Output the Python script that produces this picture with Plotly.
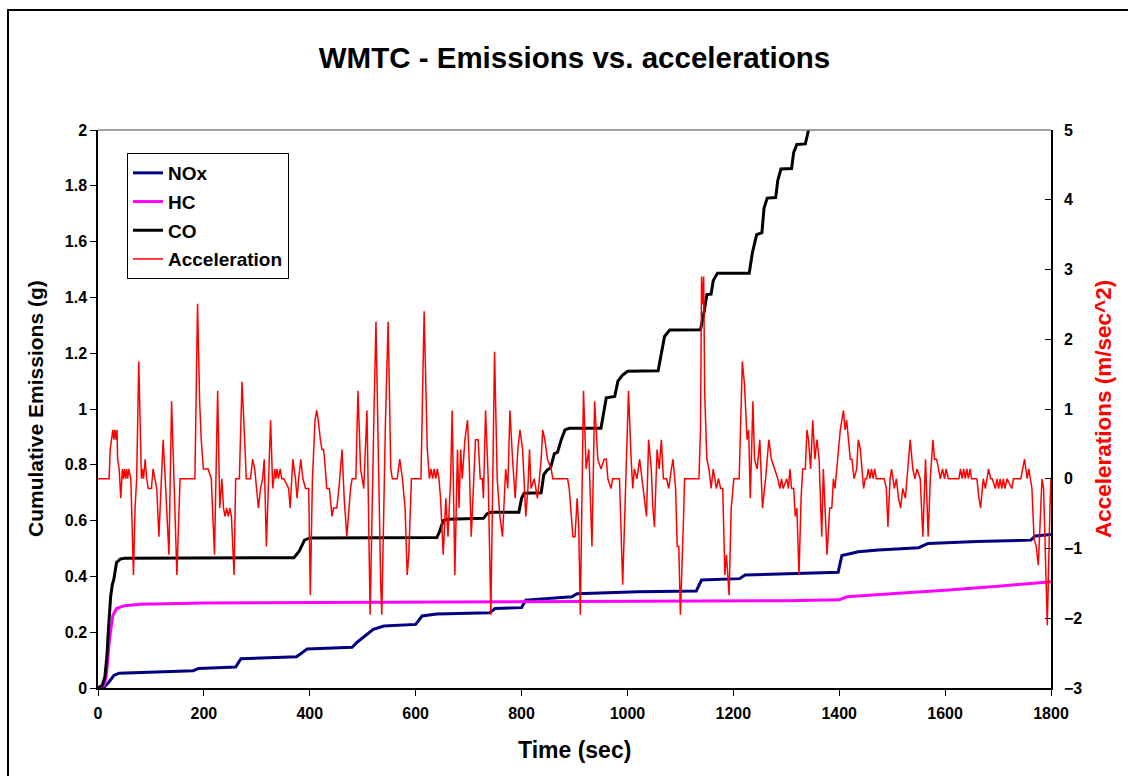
import plotly.graph_objects as go

# ---------------- data ----------------
nox_t = [0, 10, 20, 30, 40, 100, 180, 190, 260, 270, 375, 395, 480, 490, 520, 540, 600, 612, 640, 740, 750,
         800, 808, 895, 905, 1020, 1130, 1140, 1212, 1222, 1300, 1398, 1405, 1436, 1474, 1550, 1568, 1660,
         1762, 1770, 1800]
nox_v = [0, 0.0, 0.02, 0.045, 0.053, 0.058, 0.062, 0.07, 0.075, 0.105, 0.112, 0.14, 0.146, 0.165, 0.21, 0.222,
         0.228, 0.258, 0.265, 0.27, 0.285, 0.288, 0.315, 0.327, 0.338, 0.345, 0.348, 0.387, 0.392, 0.405, 0.41,
         0.415, 0.475, 0.488, 0.495, 0.503, 0.518, 0.525, 0.53, 0.545, 0.55]

hc_t = [0, 12, 16, 22, 28, 35, 50, 80, 200, 600, 1000, 1300, 1400, 1415, 1505, 1600, 1700, 1800]
hc_v = [0, 0.01, 0.05, 0.18, 0.26, 0.285, 0.295, 0.3, 0.305, 0.307, 0.31, 0.313, 0.316, 0.327, 0.339, 0.35,
        0.365, 0.381]

co_t = [0, 8, 13, 17, 20, 24, 27, 30, 35, 42, 50, 370, 380, 390, 400, 640, 645, 652, 660, 728, 735, 742, 795,
        800, 805, 837, 842, 848, 855, 862, 868, 875, 882, 890, 950, 955, 960, 976, 982, 990, 1000, 1058, 1064,
        1070, 1080, 1138, 1145, 1150, 1158, 1162, 1170, 1230, 1236, 1244, 1254, 1258, 1264, 1280, 1284, 1290,
        1310, 1314, 1320, 1336, 1342, 1350]
co_v = [0, 0.01, 0.04, 0.12, 0.22, 0.33, 0.37, 0.39, 0.45, 0.462, 0.465, 0.467, 0.49, 0.53, 0.538, 0.539, 0.56,
        0.6, 0.605, 0.608, 0.625, 0.63, 0.63, 0.68, 0.698, 0.7, 0.765, 0.78, 0.79, 0.84, 0.845, 0.89, 0.925,
        0.931, 0.931, 0.99, 1.04, 1.045, 1.1, 1.12, 1.135, 1.137, 1.2, 1.26, 1.283, 1.284, 1.35, 1.41, 1.412,
        1.46, 1.487, 1.487, 1.56, 1.625, 1.632, 1.72, 1.756, 1.758, 1.82, 1.86, 1.862, 1.92, 1.948, 1.95, 2.0,
        2.08]

accel_t = [0, 21, 23, 26, 28, 30, 32, 34, 36, 37, 40, 43, 46, 48, 50, 52, 54, 56, 58, 62, 64, 67, 70, 73, 77,
           82, 84, 86, 89, 92, 95, 101, 104, 108, 111, 115, 119, 121, 123, 126, 130, 134, 139, 144, 149, 155,
           183, 188, 192, 195, 199, 208, 214, 220, 226, 230, 234, 237, 240, 243, 246, 249, 252, 257,
           260, 267, 272, 277, 280, 288, 292, 296, 300, 303, 307, 311, 314, 318, 326, 330, 334, 336, 338, 341,
           344, 347, 351, 360, 363, 368, 373, 376, 379, 383, 387, 392, 398, 401, 405, 410, 413, 416, 420, 423,
           426, 428, 432, 437, 442, 445, 451, 455, 461, 465, 470, 477, 480, 487, 491, 496, 502, 508, 514,
           518, 521, 525, 530, 534, 536, 540, 543, 548, 553, 556, 565, 570, 575, 580, 584, 587, 592, 610, 616,
           622, 626, 629, 632, 635, 638, 641, 644, 647, 652, 657, 661, 666, 669, 674, 679, 682, 685, 688, 693,
           698, 701, 705, 709, 713, 718, 722, 726, 728, 732, 737, 742, 749, 754, 759, 764, 770, 774,
           778, 783, 788, 793, 797, 802, 808, 812, 815, 818, 824, 827, 830, 832, 837, 840, 844, 849, 856, 859,
           887, 890, 897, 901, 905, 908, 911, 917, 922, 927, 933, 938, 944, 950, 956, 960, 963, 969, 972, 985,
           991, 997, 1002, 1007, 1010, 1013, 1018, 1023, 1029, 1033, 1036, 1040, 1045, 1048, 1051, 1056,
           1060, 1064, 1068, 1074, 1078, 1083, 1086, 1091, 1094, 1097, 1100, 1106, 1108, 1135, 1138, 1140,
           1142, 1144, 1146, 1150, 1154, 1158, 1162, 1165, 1168, 1172, 1176, 1180, 1184, 1187, 1192, 1196,
           1201, 1211, 1217, 1221, 1226, 1229, 1232, 1237, 1240, 1245, 1250, 1255, 1261, 1267, 1272, 1278,
           1284, 1288, 1291, 1294, 1301, 1304, 1307, 1310, 1314, 1317, 1320, 1324, 1328, 1331, 1336, 1339,
           1342, 1346, 1350, 1354, 1358, 1362, 1367, 1370, 1377, 1382, 1386, 1389, 1392, 1397, 1402, 1408,
           1411, 1414, 1417, 1421, 1424, 1428, 1433, 1436, 1440, 1443, 1446, 1449, 1452, 1455, 1458, 1461,
           1464, 1467, 1470, 1485, 1489, 1492, 1496, 1499, 1504, 1508, 1512, 1516, 1520, 1525, 1528, 1531,
           1534, 1539, 1543, 1547, 1553, 1558, 1563, 1568, 1572, 1577, 1580, 1584, 1588, 1591, 1595, 1599,
           1602, 1606, 1626, 1629, 1632, 1635, 1638, 1641, 1644, 1647, 1650, 1660, 1664, 1667, 1672, 1676,
           1679, 1682, 1686, 1689, 1695, 1698, 1701, 1704, 1707, 1710, 1713, 1717, 1726, 1729, 1743, 1747,
           1750, 1755, 1758, 1761, 1764, 1768, 1772, 1776, 1780, 1783, 1786, 1790, 1793, 1798, 1800]
accel_a = [0, 0, 0.42, 0.56, 0.7, 0.56, 0.7, 0.56, 0.7, 0.28, 0.14, -0.28, 0.14, 0, 0.14, 0, 0.14, 0, 0.14, 0,
           -0.54, -1.38, -0.42, 0, 1.68, 0, 0.14, 0, 0.28, 0, -0.14, -0.14, 0.14, 0, -0.14, -0.83, 0, 0.42, 0.56,
           0.14, -0.42, -1.09, 1.11, 0, -1.38, 0, 0, 2.51, 1.1, 0.56, 0.14, 0.14, 0, -1.09, 1.26, -0.42, 0,
           -0.42, -0.54, -0.42, -0.54, -0.42, -0.54, -1.38,
           0, 0, 1.39, 0.56, 0, 0, 0.28, 0.14, -0.14, -0.42, -0.14, 0, 0.28, -0.97, 0.84, -0.14, 0.14, 0, 0.14,
           0, 0.14, 0, 0, -0.14, -0.42, 0.28, 0, -0.28, 0, 0.28, 0, -0.14, -0.14, -1.67, 0, 0.84, 0.98, 0.84,
           0.56, 0.42, 0.42, 0.28, -0.14, -0.14, -0.54, -0.42, -0.42, -0.14, 0.42, -0.28, -0.83, -0.14, 0, 0,
           1.26, 0.14, -0.14, 0.98, -1.95,
           0, 0.84, 2.25, 0, -1.52, -1.95, 0, 0.84, 2.25, 0.14, 0, 0, 0.28, 0, -0.42, -1.38, -1.09, 0, 0, 2.4,
           0.42, 0, 0.14, 0, 0.14, 0, 0.14, 0, -0.28, -1.09, -0.28, -0.83, 0, 0.98, -1.38, 0.42, -0.42, 0.42, 0,
           0.56, 0.84, 0.28, -0.83, 0, 0.56, 0.56, 0, 0, -0.28, 0.98, 0, -1.95, 1.82, 0, -0.54, -0.83, 0.14,
           -0.14,
           0.98, 0.28, -0.28, 0.42, 0.7, 0.42, -0.54, -0.14, 0.42, -0.14, 0, -0.14, -0.28, -0.14, 0.28, 0.7, 0.56,
           0.28, 0.14, 0, 0, -0.14, -0.83, -0.83, -0.28, -0.69, -1.95, 1.26, 0.14, 0.42, -0.97, 1.11, 0.28, 0.14,
           0.28, 0.28, 0, -0.14, 0, 0, -1.52, 0, 1.26, 0.28, -0.14, 0.14, 0, 0.28, -0.14, -0.42, -0.54, 0.56,
           0.14, -0.42, -0.69, 0.42, 0.14, 0.56, 0, 0, -0.14, 0.14, 0.28, -0.14, -0.97, -0.97, -1.95, -0.54, 0,
           0, 0.7, 2.9, 2.5, 2.9, 1.2, 0.28, 0.14, -0.14, 0.14, 0, -0.14, 0, -0.14, -0.14, -1.38, -1.09, -1.67,
           -0.42, 0, 0, 1.68, 1.36, 0.56, 0.7, -0.28, 1.11, 0.28, 0.14, 0.56, -0.42, 0, 0.56, 0.28, 0.14, 0,
           -0.14, 0, -0.14, 0, -0.14, 0.14, -0.14, -0.14, -0.54, -0.42, -1.38, -0.28, 0.14, 0.14, 0.7, 0.56,
           0.14, 0.84, 0.28, 0.56, 0.28, -0.83, 0.14, -1.09, -0.42, -0.42, 0, -0.14, 0.28, 0.7, 0.98, 0.7, 0.84,
           0.56, 0.28, 0.28, 0, 0.14, 0.56, 0.42, 0.14, -0.14, 0, 0, 0.14, 0, 0.14, 0, 0.14, 0, 0, -0.14, -0.69,
           0, 0.14, -0.14, 0, -0.28, -0.42, -0.14, -0.28, 0, 0.28, 0.56, 0.14, 0, 0.14, 0, -0.83, 0.28, -0.83,
           0, 0.56, 0.28, 0.28, 0.14, 0, 0.14, 0, 0.14, 0, 0, 0.14, 0, 0.14, 0, 0.14, 0, 0.14, 0, 0, -0.28,
           -0.42, 0, -0.14, 0, 0.14, 0, 0, -0.14, 0, -0.14, 0, -0.14, 0, -0.14, 0, -0.14, 0, 0, 0.14, 0.28, 0,
           0.14, 0, -0.14, -0.86, -0.97, -1.24, -0.42, 0, -0.14, -1.38, -2.1, -0.42, 0]

x_ticks = [0, 200, 400, 600, 800, 1000, 1200, 1400, 1600, 1800]
y_ticks = [0, 0.2, 0.4, 0.6, 0.8, 1, 1.2, 1.4, 1.6, 1.8, 2]
y2_ticks = [-3, -2, -1, 0, 1, 2, 3, 4, 5]

FONT = "Liberation Sans, Arial, sans-serif"
TICKFONT = dict(size=16, family=FONT, color="black", weight="bold")

fig = go.Figure()
fig.add_trace(go.Scatter(x=nox_t, y=nox_v, name="NOx", mode="lines", legendgroup="a",
                         line=dict(color="#000080", width=3)))
fig.add_trace(go.Scatter(x=hc_t, y=hc_v, name="HC", mode="lines", legendgroup="b",
                         line=dict(color="#FF00FF", width=3)))
fig.add_trace(go.Scatter(x=co_t, y=co_v, name="CO", mode="lines", legendgroup="c",
                         line=dict(color="#000000", width=3)))
fig.add_trace(go.Scatter(x=accel_t, y=accel_a, name="Acceleration", mode="lines", legendgroup="d",
                         yaxis="y2", line=dict(color="#FF0000", width=1.5)))

L, R, T, B = 98, 1128 - 1051, 130, 776 - 688
W, H = 1051 - 98, 688 - 130

def px(x):
    return (x - L) / W

def py(y):
    return (688 - y) / H

fig.update_layout(
    width=1128, height=776,
    margin=dict(l=L, r=R, t=T, b=B),
    paper_bgcolor="white", plot_bgcolor="white",
    font=dict(family=FONT, color="black"),
    title=dict(text="WMTC - Emissions vs. accelerations", x=0.5, xanchor="center",
               xref="paper", y=1 - 58 / 776, yanchor="middle", yref="container",
               font=dict(size=29.5, family=FONT, color="black", weight="bold")),
    xaxis=dict(range=[0, 1800], tickvals=x_ticks,
               showgrid=False, zeroline=False,
               showline=True, linecolor="black", linewidth=1.5, ticks="outside", ticklen=6,
               tickcolor="black", tickfont=TICKFONT, ticklabelstandoff=4),
    yaxis=dict(range=[0, 2], tickvals=y_ticks,
               showgrid=False, zeroline=False,
               showline=True, linecolor="black", linewidth=1.5, ticks="outside", ticklen=6,
               tickcolor="black", tickfont=TICKFONT),
    yaxis2=dict(range=[-3, 5], tickvals=y2_ticks,
                overlaying="y", side="right", showgrid=False, zeroline=False,
                showline=True, linecolor="black", linewidth=1.5, ticks="inside", ticklen=6,
                tickcolor="black", tickfont=TICKFONT, ticklabelstandoff=8),
    legend=dict(x=px(127), y=py(153), xanchor="left", yanchor="top", bgcolor="white",
                bordercolor="black", borderwidth=1,
                font=dict(size=19, family=FONT, color="black", weight="bold"),
                tracegroupgap=1, itemwidth=30),
    showlegend=True,
)

fig.add_annotation(text="Time (sec)", x=0.5, y=py(750), xref="paper", yref="paper",
                   showarrow=False, font=dict(size=23, family=FONT, color="black", weight="bold"),
                   xanchor="center", yanchor="middle")
fig.add_annotation(text="Cumulative Emissions (g)", x=px(35), y=0.5, xref="paper", yref="paper",
                   showarrow=False, textangle=-90, font=dict(size=21, family=FONT, color="black", weight="bold"),
                   xanchor="center", yanchor="middle")
fig.add_annotation(text="Accelerations (m/sec^2)", x=px(1103), y=0.5, xref="paper", yref="paper",
                   showarrow=False, textangle=-90,
                   font=dict(size=22.5, family=FONT, color="#FF0000", weight="bold"),
                   xanchor="center", yanchor="middle")

# plot area top border (gray) and outer chart border
fig.add_shape(type="line", xref="paper", yref="paper", x0=0, x1=1, y0=1, y1=1,
              line=dict(color="#808080", width=1.5))
fig.add_shape(type="rect", xref="paper", yref="paper", x0=px(8), x1=px(1140), y0=py(10), y1=py(790),
              line=dict(color="black", width=2), fillcolor="rgba(0,0,0,0)", layer="below")

fig.write_html("out.html")
